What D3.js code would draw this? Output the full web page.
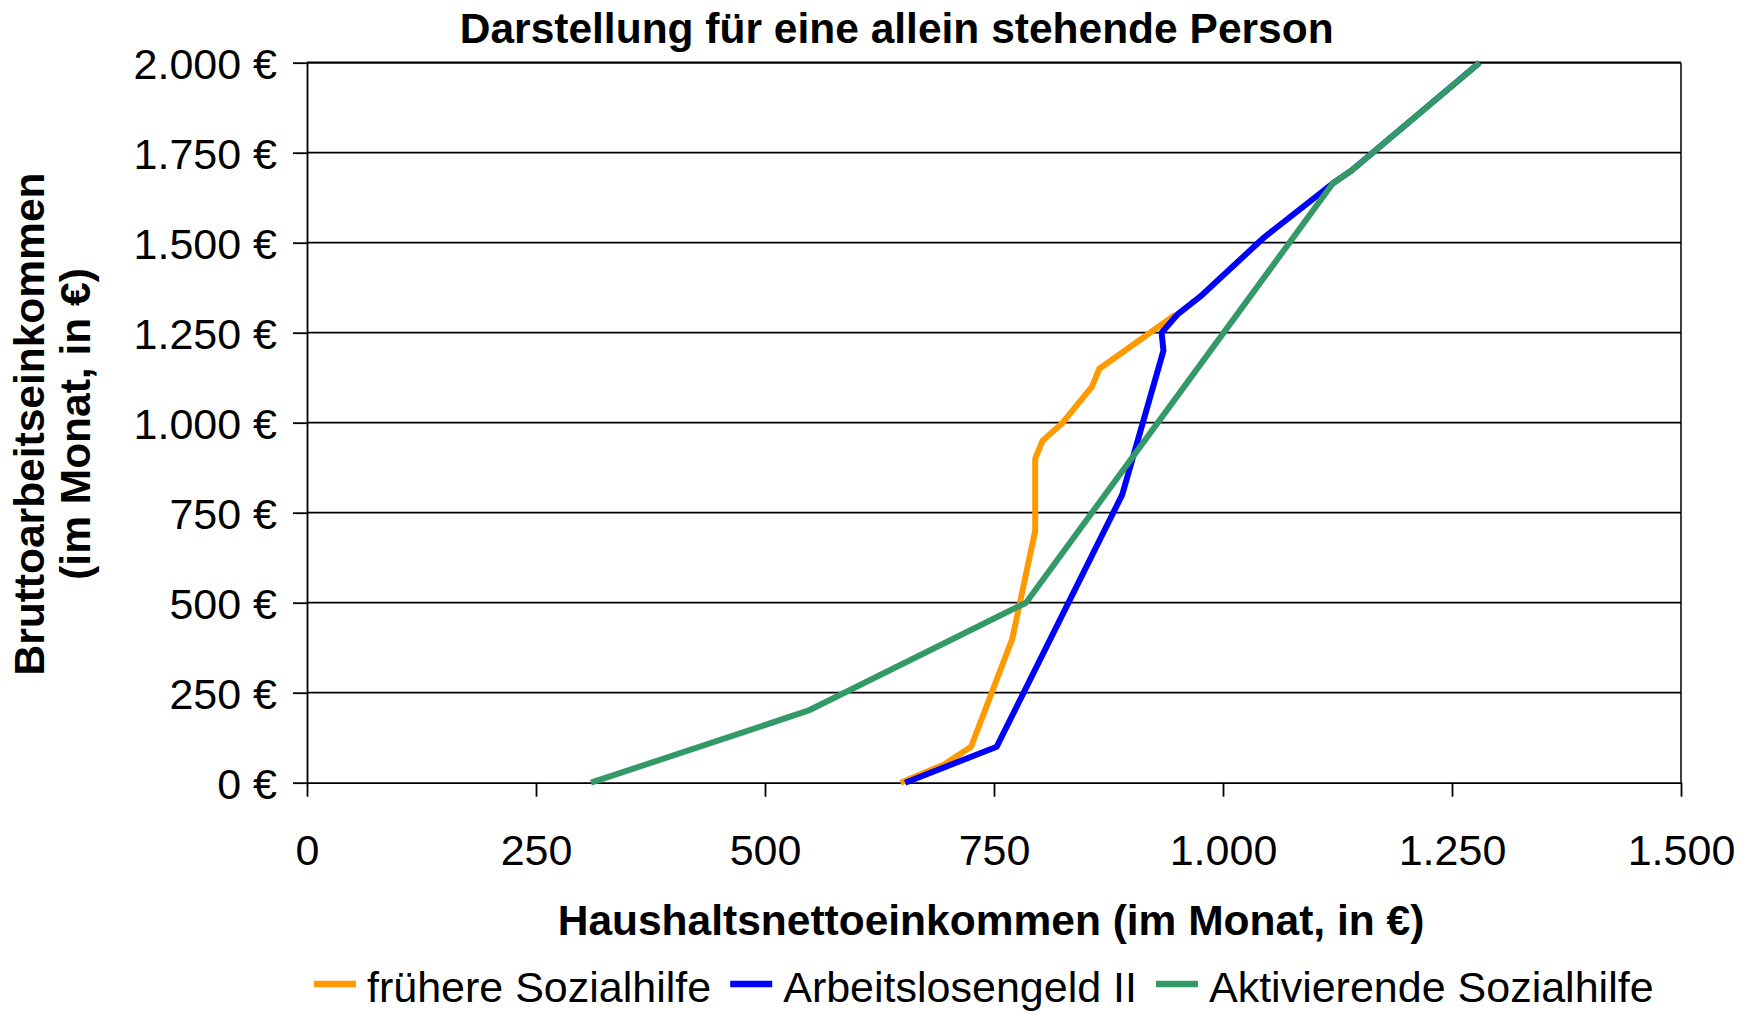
<!DOCTYPE html>
<html>
<head>
<meta charset="utf-8">
<script src="https://cdn.jsdelivr.net/npm/d3@7"></script>
<style>
  body { margin: 0; background: #fff; }
  text { font-family: "Liberation Sans", Arial, sans-serif; fill: #000; }
</style>
</head>
<body>
<div id="chart"></div>
<script>
// values (Haushaltsnettoeinkommen x, Bruttoarbeitseinkommen y)
const sozialhilfeX = [648, 695, 725, 770, 795, 795, 803, 825, 857, 865, 948];
const sozialhilfeY = [0, 50, 100, 400, 700, 900, 950, 1000, 1100, 1150, 1300];

const alg2X = [653, 753, 890, 935, 933, 950, 975, 1045, 1120, 1140, 1280];
const alg2Y = [0, 100, 800, 1200, 1250, 1300, 1350, 1515, 1665, 1700, 2000];

const aktivX = [310, 547, 785, 1120, 1140, 1280];
const aktivY = [0, 200, 500, 1665, 1700, 2000];

const seriesNames = ["frühere Sozialhilfe", "Arbeitslosengeld II", "Aktivierende Sozialhilfe"];
const seriesColors = ["#ff9900", "#0000ff", "#339966"];

const xTicks = [0, 250, 500, 750, 1000, 1250, 1500];
const yTicks = [0, 250, 500, 750, 1000, 1250, 1500, 1750, 2000];

const width = 1750, height = 1012;
const plotLeft = 307, plotRight = 1681, plotTop = 62.7, plotBottom = 782.7;

const de = d3.formatLocale({decimal: ",", thousands: ".", grouping: [3], currency: ["", " €"]});
const fmtNum = de.format(",.0f");
const fmtEur = de.format("$,.0f");

const svg = d3.select("#chart").append("svg")
    .attr("width", width)
    .attr("height", height);

const x = d3.scaleLinear().domain([0, 1500]).range([plotLeft, plotRight]);
const y = d3.scaleLinear().domain([0, 2000]).range([plotBottom, plotTop]);

// gridlines
svg.append("g")
    .selectAll("line")
    .data(yTicks.filter(d => d > 0))
    .enter().append("line")
    .attr("x1", plotLeft).attr("x2", plotRight)
    .attr("y1", d => y(d)).attr("y2", d => y(d))
    .attr("stroke", "#000")
    .attr("stroke-width", d => d === 2000 ? 2.2 : 1.8);

// right border of plot area
svg.append("line")
    .attr("x1", plotRight).attr("x2", plotRight)
    .attr("y1", plotTop).attr("y2", plotBottom)
    .attr("stroke", "#000")
    .attr("stroke-width", 1.5);

const yAxis = svg.append("g")
    .attr("transform", "translate(" + plotLeft + ",0)")
    .call(d3.axisLeft(y).tickValues(yTicks).tickFormat(fmtEur).tickSize(14).tickSizeOuter(0).tickPadding(16));

const xAxis = svg.append("g")
    .attr("transform", "translate(0," + plotBottom + ")")
    .call(d3.axisBottom(x).tickValues(xTicks).tickFormat(fmtNum).tickSize(14).tickSizeOuter(0).tickPadding(38));

[yAxis, xAxis].forEach(a => {
    a.selectAll("path, line").attr("stroke", "#000").attr("stroke-width", 1.8);
    a.selectAll("text")
        .style("font-family", "'Liberation Sans', Arial, sans-serif")
        .style("font-size", "43px")
        .attr("fill", "#000");
});
yAxis.selectAll("text").attr("dy", "0.36em");

// series
const series = [
    d3.zip(sozialhilfeX, sozialhilfeY),
    d3.zip(alg2X, alg2Y),
    d3.zip(aktivX, aktivY)
];

const line = d3.line()
    .x(d => x(d[0]))
    .y(d => y(d[1]));

svg.append("g")
    .selectAll("path")
    .data(series)
    .enter().append("path")
    .attr("d", line)
    .attr("fill", "none")
    .attr("stroke", (d, i) => seriesColors[i])
    .attr("stroke-width", 6)
    .attr("stroke-linejoin", "round");

// titles
svg.append("text")
    .attr("x", 896.7)
    .attr("y", 42.5)
    .attr("text-anchor", "middle")
    .style("font-size", "42.5px")
    .style("font-weight", "bold")
    .text("Darstellung für eine allein stehende Person");

svg.append("text")
    .attr("x", 991)
    .attr("y", 935)
    .attr("text-anchor", "middle")
    .style("font-size", "42.5px")
    .style("font-weight", "bold")
    .text("Haushaltsnettoeinkommen (im Monat, in €)");

const yTitle = svg.append("text")
    .attr("transform", "translate(44,424) rotate(-90)")
    .attr("text-anchor", "middle")
    .style("font-size", "42.5px")
    .style("font-weight", "bold");
yTitle.append("tspan").attr("x", 0).attr("y", 0).text("Bruttoarbeitseinkommen");
yTitle.append("tspan").attr("x", 0).attr("y", 0).attr("dy", 46).text("(im Monat, in €)");

// legend
const legend = svg.append("g");
let lx = 314;
seriesNames.forEach((name, i) => {
    legend.append("line")
        .attr("x1", lx).attr("x2", lx + 42)
        .attr("y1", 984).attr("y2", 984)
        .attr("stroke", seriesColors[i])
        .attr("stroke-width", 6.5);
    const t = legend.append("text")
        .attr("x", lx + 53)
        .attr("y", 1002)
        .style("font-size", "43px")
        .text(name);
    lx = lx + 53 + t.node().getComputedTextLength() + 19;
});
</script>
</body>
</html>
